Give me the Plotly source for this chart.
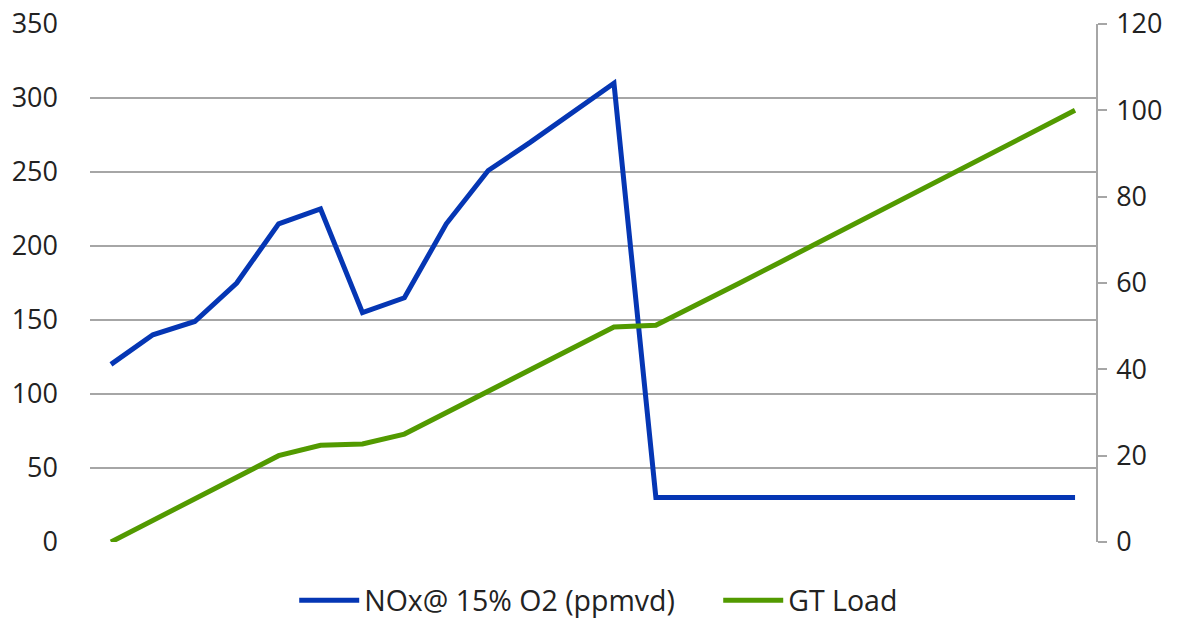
import plotly.graph_objects as go

categories = list(range(1, 25))
nox = [120, 140, 149, 175, 215, 225, 155, 165, 215, 251, 270, 290, 310,
       30, 30, 30, 30, 30, 30, 30, 30, 30, 30, 30]
gt_load = [0, 5, 10, 15, 20, 22.4, 22.7, 25, 30, 35, 40, 45, 49.8,
           50.2, 55, 60, 65, 70, 75, 80, 85, 90, 95, 100]
left_ticks = [0, 50, 100, 150, 200, 250, 300, 350]
right_ticks = [0, 20, 40, 60, 80, 100, 120]

FONT = "Open Sans"
GRID = "#a6a6a6"

fig = go.Figure()
fig.add_trace(go.Scatter(x=categories, y=nox, mode="lines",
                         name="NOx@ 15% O2 (ppmvd)",
                         line=dict(color="#0536b4", width=5)))
fig.add_trace(go.Scatter(x=categories, y=gt_load, mode="lines",
                         name="GT Load", yaxis="y2",
                         line=dict(color="#529a00", width=5)))

fig.update_layout(
    width=1183, height=624,
    margin=dict(l=90, r=87, t=24, b=82, autoexpand=False),
    paper_bgcolor="white", plot_bgcolor="white",
    font=dict(family=FONT, size=27, color="#222222"),
    showlegend=True,
    legend=dict(orientation="h", x=0.203, xanchor="left", y=-0.064,
                yanchor="top", font=dict(family=FONT, size=28.5, color="#222222"),
                traceorder="normal", itemwidth=60,
                entrywidth=349, entrywidthmode="pixels"),
    xaxis=dict(range=[0.5, 24.5], showticklabels=False, showgrid=False,
               zeroline=False, ticks="", showline=False, automargin=False),
    yaxis=dict(range=[0, 350], tickvals=left_ticks, showgrid=True,
               gridcolor=GRID, gridwidth=1.5, zeroline=False, showline=False,
               ticks="", ticklabelstandoff=31, automargin=False,
               ticklabeloverflow="allow"),
    yaxis2=dict(range=[0, 120], tickvals=right_ticks, overlaying="y",
                side="right", showgrid=False, zeroline=False, showline=True,
                linecolor=GRID, linewidth=1.5, ticks="outside", ticklen=9,
                tickcolor=GRID, tickwidth=1.5, ticklabelstandoff=4,
                automargin=False, ticklabeloverflow="allow"),
)

fig.write_html("out.html", config={"displayModeBar": False},
               post_script="document.body.style.margin='0';")
